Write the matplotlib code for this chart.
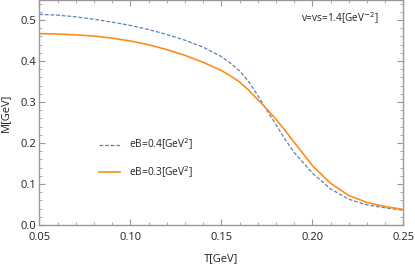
import matplotlib
matplotlib.use("Agg")
import matplotlib.pyplot as plt
from matplotlib.ticker import MultipleLocator, FormatStrFormatter

plt.rcParams['font.family'] = ['Open Sans', 'DejaVu Sans']

T = [0.05, 0.06, 0.07, 0.08, 0.09, 0.10, 0.11, 0.12, 0.13, 0.14, 0.15, 0.155,
     0.16, 0.165, 0.17, 0.175, 0.18, 0.185, 0.19, 0.20, 0.21, 0.22, 0.23, 0.24, 0.25]
M_eB04 = [0.514, 0.512, 0.508, 0.502, 0.495, 0.487, 0.477, 0.465, 0.451, 0.434, 0.411, 0.395,
          0.376, 0.350, 0.316, 0.280, 0.245, 0.209, 0.177, 0.127, 0.088, 0.063, 0.049, 0.042, 0.036]
M_eB03 = [0.467, 0.466, 0.464, 0.461, 0.456, 0.449, 0.440, 0.428, 0.414, 0.397, 0.377, 0.364,
          0.349, 0.329, 0.306, 0.283, 0.258, 0.231, 0.202, 0.145, 0.102, 0.072, 0.055, 0.045, 0.038]
labels = ['eB=0.4[GeV$^2$]', 'eB=0.3[GeV$^2$]']
annotation = 'v=vs=1.4[GeV$^{-2}$]'

fig = plt.figure(figsize=(4.15, 2.66), dpi=100)
ax = fig.add_axes([0.0947, 0.154, 0.972 - 0.0947, 0.846])

blue = '#5e81b5'
orange = '#ff8c1a'
ax.plot(T, M_eB04, color=blue, lw=0.9, ls=(0, (3, 1.5)), label=labels[0])
ax.plot(T, M_eB03, color=orange, lw=1.2, label=labels[1])

ax.set_xlim(0.05, 0.25)
ax.set_ylim(0, 0.549)
ax.xaxis.set_major_locator(MultipleLocator(0.05))
ax.xaxis.set_minor_locator(MultipleLocator(0.01))
ax.yaxis.set_major_locator(MultipleLocator(0.1))
ax.yaxis.set_minor_locator(MultipleLocator(0.02))
ax.xaxis.set_major_formatter(FormatStrFormatter('%.2f'))
ax.yaxis.set_major_formatter(FormatStrFormatter('%.1f'))

frame_col = '#999999'
for s in ax.spines.values():
    s.set_color(frame_col)
    s.set_linewidth(1.0)
ax.tick_params(which='both', direction='in', top=True, right=True,
               color=frame_col, labelsize=8, labelcolor='#222222')
ax.tick_params(which='major', length=4, width=0.8)
ax.tick_params(which='minor', length=2, width=0.6)
ax.tick_params(axis='x', which='major', pad=5)
ax.tick_params(axis='y', which='major', pad=2)

ax.set_xlabel('T[GeV]', fontsize=8, color='#222222', labelpad=7)
ax.set_ylabel('M[GeV]', fontsize=8, color='#222222', labelpad=7)

ax.text(0.933, 0.92, annotation, transform=ax.transAxes, fontsize=7.2,
        ha='right', va='center', color='#222222')

leg = ax.legend(loc='lower left', bbox_to_anchor=(0.14, 0.16), frameon=False,
                fontsize=7.3, handlelength=2.0, handletextpad=0.9, labelspacing=1.2)
for t in leg.get_texts():
    t.set_color('#222222')

fig.savefig('out.png', dpi=100)
